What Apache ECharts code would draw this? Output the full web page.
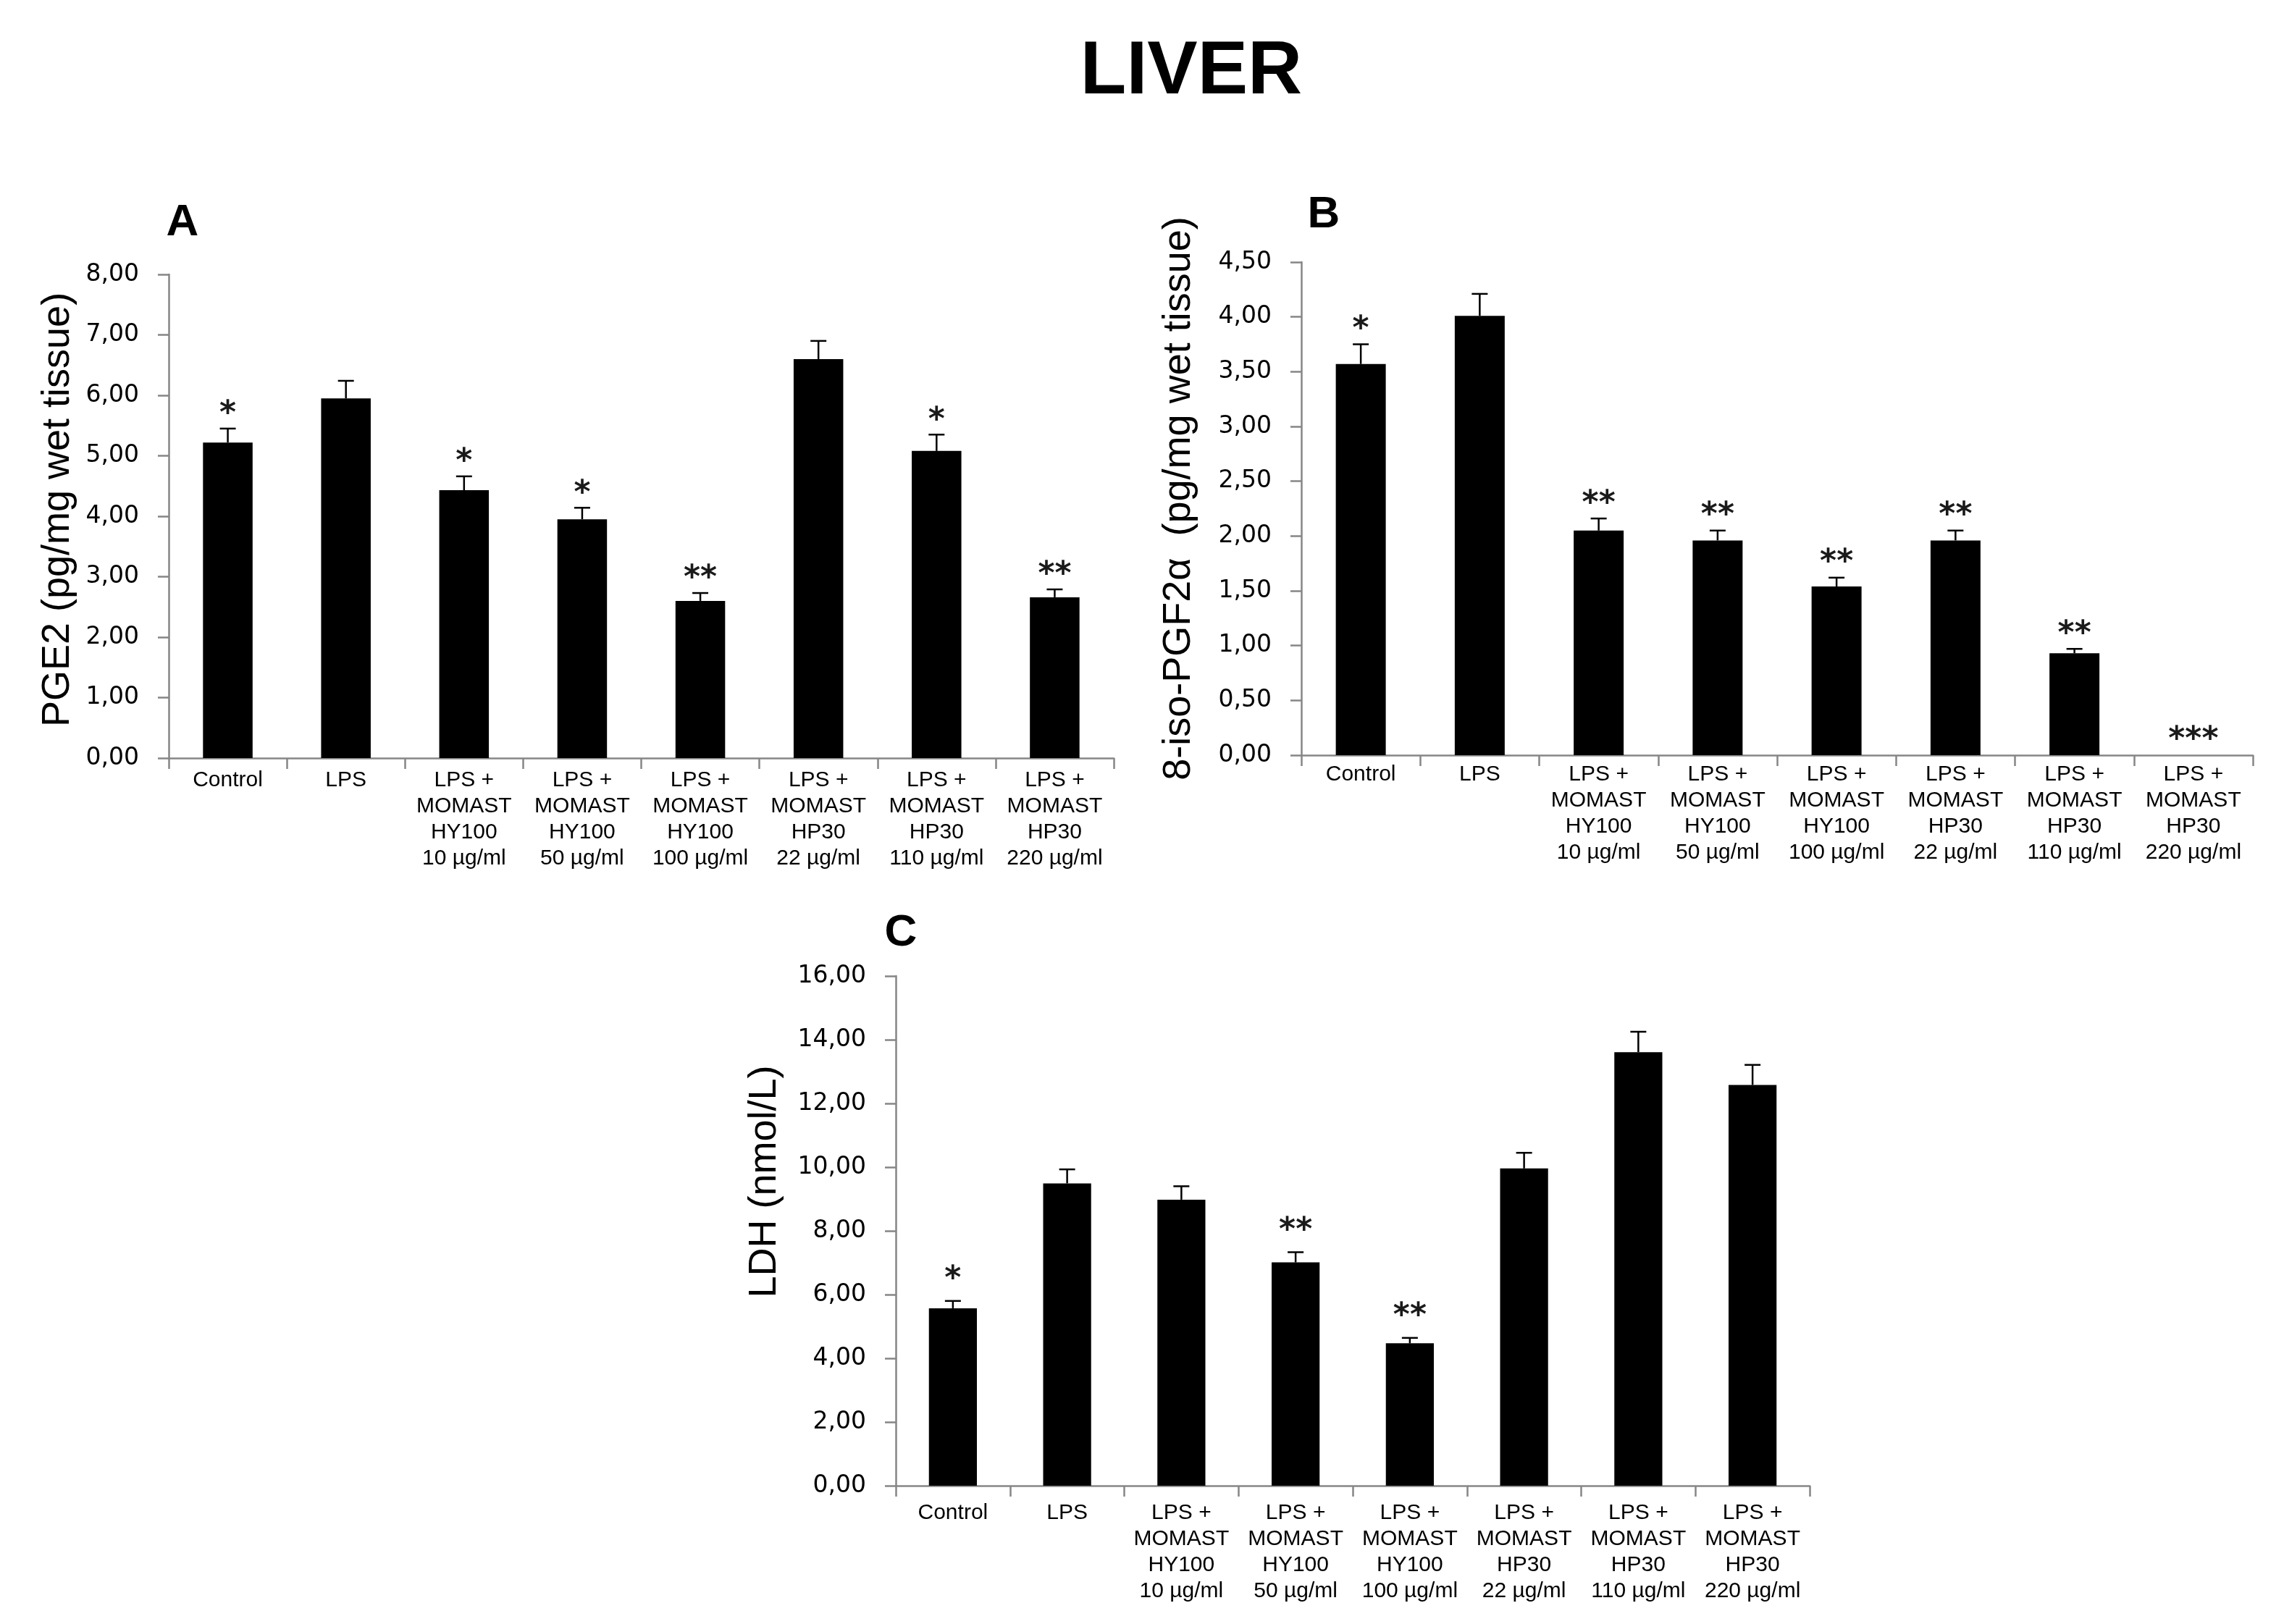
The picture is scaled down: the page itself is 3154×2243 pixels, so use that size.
<!DOCTYPE html>
<html><head><meta charset="utf-8">
<script src="https://cdn.jsdelivr.net/npm/echarts@6/dist/echarts.min.js"></script>
<style>html,body{margin:0;padding:0;background:#fff}#c{width:3154px;height:2243px}</style>
</head><body><div id="c"></div>
<script>
const categories = ['Control','LPS',
  'LPS +\nMOMAST\nHY100\n10 µg/ml','LPS +\nMOMAST\nHY100\n50 µg/ml','LPS +\nMOMAST\nHY100\n100 µg/ml',
  'LPS +\nMOMAST\nHP30\n22 µg/ml','LPS +\nMOMAST\nHP30\n110 µg/ml','LPS +\nMOMAST\nHP30\n220 µg/ml'];

const pge2Mean  = [5.22, 5.95, 4.43, 3.95, 2.60, 6.60, 5.08, 2.66];
const pge2Upper = [5.45, 6.24, 4.66, 4.14, 2.73, 6.90, 5.35, 2.79];
const pge2Sig   = ['*', '', '*', '*', '**', '', '*', '**'];

const isoMean  = [3.57, 4.01, 2.05, 1.96, 1.54, 1.96, 0.93, 0];
const isoUpper = [3.75, 4.21, 2.16, 2.05, 1.62, 2.05, 0.97, 0];
const isoSig   = ['*', '', '**', '**', '**', '**', '**', '***'];

const ldhMean  = [5.57, 9.49, 8.98, 7.01, 4.47, 9.96, 13.61, 12.58];
const ldhUpper = [5.80, 9.93, 9.40, 7.33, 4.64, 10.45, 14.25, 13.21];
const ldhSig   = ['*', '', '', '**', '**', '', '', ''];

const ticksA = ['0,00','1,00','2,00','3,00','4,00','5,00','6,00','7,00','8,00'];
const ticksB = ['0,00','0,50','1,00','1,50','2,00','2,50','3,00','3,50','4,00','4,50'];
const ticksC = ['0,00','2,00','4,00','6,00','8,00','10,00','12,00','14,00','16,00'];

const AX = '#868686';
const catFont = 'Liberation Sans';

function xAxisDef(gi, margin) {
  return {
    type: 'category', gridIndex: gi, data: categories, boundaryGap: true,
    axisLine: { show: true, lineStyle: { color: AX, width: 2.5 } },
    axisTick: { show: true, interval: 0, length: 15, alignWithLabel: false, lineStyle: { color: AX, width: 2.5 } },
    axisLabel: { interval: 0, margin: margin, fontFamily: catFont, fontSize: 30, lineHeight: 36, color: '#000' },
    splitLine: { show: false }
  };
}
function yAxisDef(gi, max, interval, ticks, name, gap, shift) {
  return {
    type: 'value', gridIndex: gi, min: 0, max: max, interval: interval,
    axisLine: { show: true, lineStyle: { color: AX, width: 2.5 } },
    axisTick: { show: true, length: 15, lineStyle: { color: AX, width: 2.5 } },
    axisLabel: { margin: 41, fontFamily: 'DejaVu Sans', fontSize: 33, color: '#000',
      formatter: v => ticks[Math.round(v / interval)] },
    splitLine: { show: false },
    name: name, nameLocation: 'middle', nameGap: gap, nameMoveOverlap: false,
    nameTextStyle: { fontFamily: 'Liberation Sans', fontSize: 54, color: '#000',
      verticalAlign: 'middle', padding: [0, 0, 0, shift] }
  };
}
function errRender(sig, starGap) {
  return function (params, api) {
    const i = api.value(0), m = api.value(1), u = api.value(2);
    const p0 = api.coord([i, m]);
    const p1 = api.coord([i, u]);
    const x = p0[0], hw = 11;
    const children = [];
    if (u > m) {
      children.push({ type: 'line', shape: { x1: x, y1: p0[1], x2: x, y2: p1[1] }, style: { stroke: '#000', lineWidth: 2.5 } });
      children.push({ type: 'line', shape: { x1: x - hw, y1: p1[1], x2: x + hw, y2: p1[1] }, style: { stroke: '#000', lineWidth: 2.5 } });
    }
    const s = sig[params.dataIndex];
    if (s) {
      children.push({ type: 'text', style: { text: s, x: x, y: p1[1] - starGap, align: 'center', verticalAlign: 'middle',
        fontFamily: 'DejaVu Sans', fontWeight: 'bold', fontSize: 44, fill: '#1a1a1a' } });
    }
    return { type: 'group', children: children };
  };
}
function errData(mean, upper) { return categories.map((c, i) => [i, mean[i], upper[i]]); }

const chart = echarts.init(document.getElementById('c'));
chart.setOption({
  animation: false,
  backgroundColor: '#fff',
  title: [
    { text: 'LIVER', left: 1645, top: 100, textAlign: 'center', textVerticalAlign: 'middle', padding: 0,
      textStyle: { fontFamily: 'Liberation Sans', fontWeight: 'bold', fontSize: 104, color: '#000' } },
    { text: 'A', left: 252, top: 308, textAlign: 'center', textVerticalAlign: 'middle', padding: 0,
      textStyle: { fontFamily: 'Liberation Sans', fontWeight: 'bold', fontSize: 62, color: '#000' } },
    { text: 'B', left: 1828, top: 297, textAlign: 'center', textVerticalAlign: 'middle', padding: 0,
      textStyle: { fontFamily: 'Liberation Sans', fontWeight: 'bold', fontSize: 62, color: '#000' } },
    { text: 'C', left: 1244, top: 1289, textAlign: 'center', textVerticalAlign: 'middle', padding: 0,
      textStyle: { fontFamily: 'Liberation Sans', fontWeight: 'bold', fontSize: 62, color: '#000' } }
  ],
  grid: [
    { left: 233, top: 379, width: 1305, height: 668, outerBoundsMode: 'none' },
    { left: 1797, top: 362, width: 1314, height: 681, outerBoundsMode: 'none' },
    { left: 1237, top: 1348, width: 1262, height: 704, outerBoundsMode: 'none' }
  ],
  xAxis: [ xAxisDef(0, 13), xAxisDef(1, 9), xAxisDef(2, 20) ],
  yAxis: [
    yAxisDef(0, 8, 1, ticksA, 'PGE2 (pg/mg wet tissue)', 153, 18),
    yAxisDef(1, 4.5, 0.5, ticksB, '8-iso-PGF2\u03b1  (pg/mg wet tissue)', 169, 28),
    yAxisDef(2, 16, 2, ticksC, 'LDH (nmol/L)', 181, 136)
  ],
  series: [
    { type: 'bar', xAxisIndex: 0, yAxisIndex: 0, data: pge2Mean, barWidth: '42%', itemStyle: { color: '#000' } },
    { type: 'bar', xAxisIndex: 1, yAxisIndex: 1, data: isoMean, barWidth: '42%', itemStyle: { color: '#000' } },
    { type: 'bar', xAxisIndex: 2, yAxisIndex: 2, data: ldhMean, barWidth: '42%', itemStyle: { color: '#000' } },
    { type: 'custom', xAxisIndex: 0, yAxisIndex: 0, data: errData(pge2Mean, pge2Upper), renderItem: errRender(pge2Sig, 19), clip: false, z: 5 },
    { type: 'custom', xAxisIndex: 1, yAxisIndex: 1, data: errData(isoMean, isoUpper), renderItem: errRender(isoSig, 20), clip: false, z: 5 },
    { type: 'custom', xAxisIndex: 2, yAxisIndex: 2, data: errData(ldhMean, ldhUpper), renderItem: errRender(ldhSig, 29), clip: false, z: 5 }
  ]
});
</script>
</body></html>
